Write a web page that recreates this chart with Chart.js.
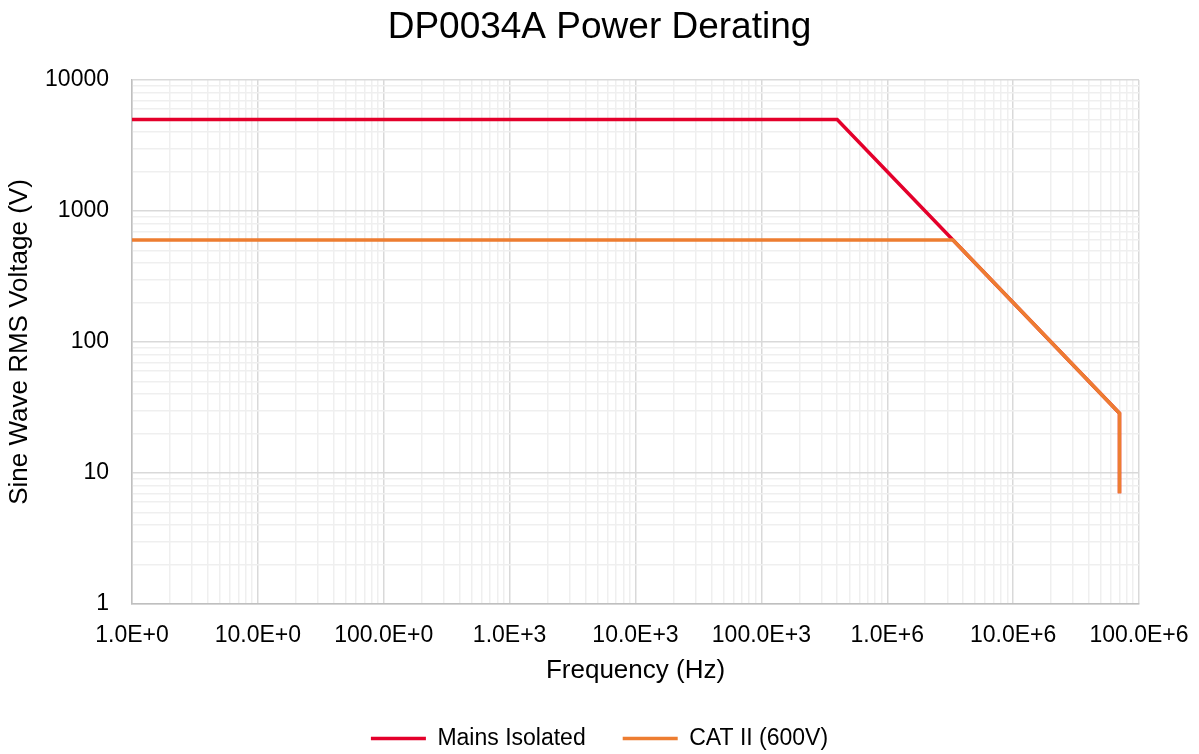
<!DOCTYPE html>
<html>
<head>
<meta charset="utf-8">
<title>DP0034A Power Derating</title>
<script src="https://cdn.jsdelivr.net/npm/chart.js@4.4.1/dist/chart.umd.min.js"></script>
<style>
    html, body { margin: 0; padding: 0; background: #ffffff; }
    #wrap { width: 1199px; height: 754px; }
</style>
</head>
<body>
<div id="wrap"><canvas id="derating"></canvas></div>
<script>
// data
const mainsFreq = [1, 4e5, 7e7, 7e7];
const mainsVolt = [5000, 5000, 28.6, 7];
const catFreq = [1, 3.33e6, 7e7, 7e7];
const catVolt = [600, 600, 28.6, 7];

const xTickLabels = ['1.0E+0', '10.0E+0', '100.0E+0', '1.0E+3', '10.0E+3', '100.0E+3', '1.0E+6', '10.0E+6', '100.0E+6'];
const yTickLabels = ['1', '10', '100', '1000', '10000'];

const FONT = "'Liberation Sans', Arial, sans-serif";

function toPoints(xs, ys) {
    let pts = [];
    for (let i = 0; i < xs.length; i++) {
        pts.push({x: xs[i], y: ys[i]});
    }
    return pts;
}

function isDecade(v) {
    const l = Math.log10(v);
    return Math.abs(l - Math.round(l)) < 1e-9;
}

// 1,2,...9 in every decade, like excel's minor grid
function logTicks(decades) {
    let ticks = [];
    for (let d = 0; d < decades; d++) {
        for (let m = 1; m < 10; m++) {
            ticks.push({value: m * Math.pow(10, d)});
        }
    }
    ticks.push({value: Math.pow(10, decades)});
    ticks.forEach(t => t.major = isDecade(t.value));
    return ticks;
}

function gridColor(ctx) {
    if (!ctx.tick) return '#f0f0f0';
    return isDecade(ctx.tick.value) ? '#d9d9d9' : '#efefef';
}

const config = {
    type: 'line',
    data: {
        datasets: [
            {
                label: 'Mains Isolated',
                data: toPoints(mainsFreq, mainsVolt),
                borderColor: '#E4002B',
                backgroundColor: '#E4002B',
                borderWidth: 3.5,
                pointRadius: 0,
                tension: 0,
                order: 1
            },
            {
                label: 'CAT II (600V)',
                data: toPoints(catFreq, catVolt),
                borderColor: '#ED7D31',
                backgroundColor: '#ED7D31',
                borderWidth: 3.5,
                pointRadius: 0,
                tension: 0,
                order: 0
            }
        ]
    },
    options: {
        responsive: true,
        maintainAspectRatio: false,
        animation: false,
        layout: {
            padding: {left: 0, right: 0, top: 0, bottom: -6}
        },
        plugins: {
            title: {
                display: true,
                text: 'DP0034A Power Derating',
                color: '#000000',
                font: {family: FONT, size: 37, weight: 'normal'},
                padding: {top: 6, bottom: 29.6}
            },
            legend: {
                position: 'bottom',
                labels: {
                    usePointStyle: true,
                    pointStyle: 'line',
                    pointStyleWidth: 55,
                    padding: 37,
                    color: '#000000',
                    font: {family: FONT, size: 23},
                    sort: (a, b) => a.datasetIndex - b.datasetIndex
                }
            },
            tooltip: {enabled: false}
        },
        scales: {
            x: {
                type: 'logarithmic',
                min: 1,
                max: 1e8,
                afterBuildTicks: function (scale) {
                    scale.ticks = logTicks(8);
                },
                afterFit: function (scale) {
                    scale.height = 86;
                    // the spacer axis handles the right margin
                    scale.paddingRight = 0;
                },
                ticks: {
                    autoSkip: false,
                    maxRotation: 0,
                    minRotation: 0,
                    padding: 18,
                    color: '#000000',
                    font: {family: FONT, size: 23},
                    callback: function (value) {
                        if (!isDecade(value)) return '';
                        return xTickLabels[Math.round(Math.log10(value))];
                    }
                },
                grid: {
                    color: gridColor,
                    lineWidth: 1.5,
                    drawTicks: false
                },
                border: {color: '#bfbfbf', width: 1.5},
                title: {
                    display: true,
                    text: 'Frequency (Hz)',
                    color: '#000000',
                    font: {family: FONT, size: 26},
                    padding: {top: 0, bottom: 4}
                }
            },
            y: {
                type: 'logarithmic',
                min: 1,
                max: 10000,
                afterBuildTicks: function (scale) {
                    scale.ticks = logTicks(4);
                },
                afterFit: function (scale) {
                    scale.width = 132;
                },
                ticks: {
                    autoSkip: false,
                    padding: 23,
                    color: '#000000',
                    font: {family: FONT, size: 23},
                    callback: function (value) {
                        if (!isDecade(value)) return '';
                        return yTickLabels[Math.round(Math.log10(value))];
                    }
                },
                grid: {
                    color: gridColor,
                    lineWidth: 1.5,
                    drawTicks: false
                },
                border: {color: '#bfbfbf', width: 1.5},
                title: {
                    display: true,
                    text: 'Sine Wave RMS Voltage (V)',
                    color: '#000000',
                    font: {family: FONT, size: 26},
                    padding: {top: 4, bottom: 0}
                }
            },
            // empty right-hand box, only reserves the space right of the plot
            spacer: {
                type: 'linear',
                position: 'right',
                afterFit: function (scale) {
                    scale.width = 60;
                },
                ticks: {display: false},
                grid: {display: false, drawTicks: false},
                border: {display: false}
            }
        }
    }
};

const chart = new Chart(document.getElementById('derating'), config);
</script>
</body>
</html>
